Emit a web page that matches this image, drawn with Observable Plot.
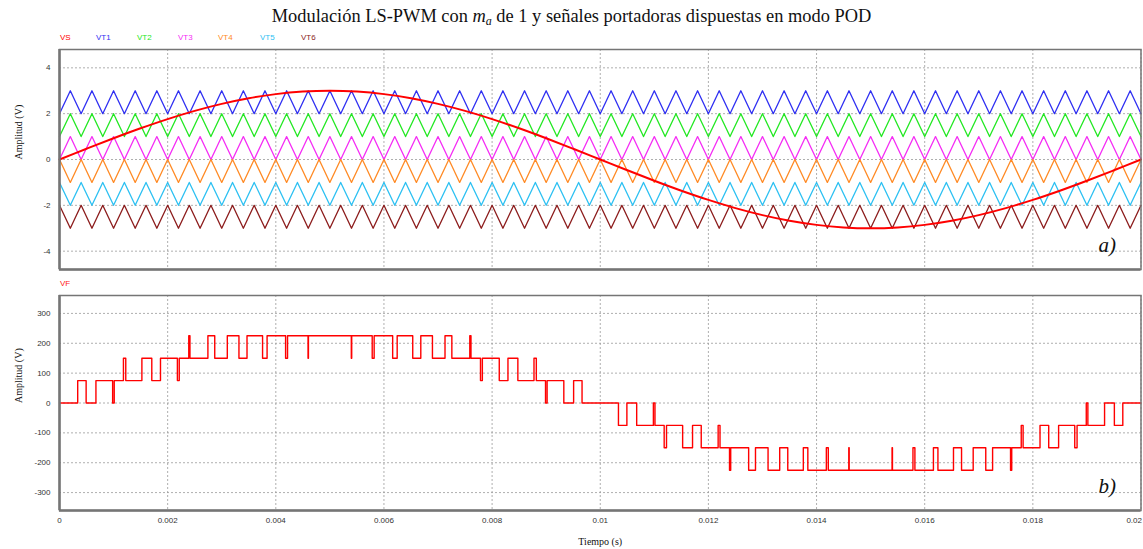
<!DOCTYPE html>
<html>
<head>
<meta charset="utf-8">
<script src="https://cdn.jsdelivr.net/npm/d3@7"></script>
<script src="https://cdn.jsdelivr.net/npm/@observablehq/plot@0.6"></script>
<style>
  body { margin: 0; background: #fff; }
  #wrap { position: relative; width: 1143px; height: 549px; overflow: hidden; background: #fff; }
  #title { position: absolute; left: 0; top: 6px; width: 1143px; text-align: center;
           font-family: "Liberation Serif", "Times New Roman", serif; font-size: 18.4px; line-height: 20px; color: #111; }
  #title i { font-style: italic; }
  #title sub { font-size: 12px; vertical-align: -3px; line-height: 0; }
  .leg { position: absolute; top: 33px; font-family: "Liberation Sans", Arial, sans-serif; font-size: 8px; line-height: 10px; }
  #vf { position: absolute; left: 60px; top: 279px; font-family: "Liberation Sans", Arial, sans-serif; font-size: 8px; line-height: 10px; color: #ff2020; }
  #plotA { position: absolute; left: 0; top: 40px; }
  #plotB { position: absolute; left: 0; top: 290px; }
</style>
</head>
<body>
<div id="wrap">
  <div id="title">Modulación LS-PWM con <i>m</i><sub><i>a</i></sub> de 1 y señales portadoras dispuestas en modo POD</div>
  <div id="legend"></div>
  <div id="vf">VF</div>
  <div id="plotA"></div>
  <div id="plotB"></div>
</div>
<script>
// ---------- data ----------
const xTicks = [0, 0.002, 0.004, 0.006, 0.008, 0.01, 0.012, 0.014, 0.016, 0.018, 0.02];
const yTicksA = [-4, -2, 0, 2, 4];
const yTicksB = [-300, -200, -100, 0, 100, 200, 300];

// Modulating signal VS (time in ms, value in V)
const vsTimeMs = [0,0.5,1,1.5,2,2.5,3,3.5,4,4.5,5,5.5,6,6.5,7,7.5,8,8.5,9,9.5,10,10.5,11,11.5,12,12.5,13,13.5,14,14.5,15,15.5,16,16.5,17,17.5,18,18.5,19,19.5,20];
const vsValues = [0,0.469,0.927,1.362,1.763,2.121,2.427,2.673,2.853,2.963,3,2.963,2.853,2.673,2.427,2.121,1.763,1.362,0.927,0.469,0,-0.469,-0.927,-1.362,-1.763,-2.121,-2.427,-2.673,-2.853,-2.963,-3,-2.963,-2.853,-2.673,-2.427,-2.121,-1.763,-1.362,-0.927,-0.469,0];

// Carrier triangle vertices (ms)
const carrierTimesMs = [0,0.2,0.4,0.6,0.8,1,1.2,1.4,1.6,1.8,2,2.2,2.4,2.6,2.8,3,3.2,3.4,3.6,3.8,4,4.2,4.4,4.6,4.8,5,5.2,5.4,5.6,5.8,6,6.2,6.4,6.6,6.8,7,7.2,7.4,7.6,7.8,8,8.2,8.4,8.6,8.8,9,9.2,9.4,9.6,9.8,10,10.2,10.4,10.6,10.8,11,11.2,11.4,11.6,11.8,12,12.2,12.4,12.6,12.8,13,13.2,13.4,13.6,13.8,14,14.2,14.4,14.6,14.8,15,15.2,15.4,15.6,15.8,16,16.2,16.4,16.6,16.8,17,17.2,17.4,17.6,17.8,18,18.2,18.4,18.6,18.8,19,19.2,19.4,19.6,19.8,20];
const carrierNames = ["VT1", "VT2", "VT3", "VT4", "VT5", "VT6"];
const carrierLow   = [2, 1, 0, -1, -2, -3];
const carrierHigh  = [3, 2, 1, 0, -1, -2];
const carrierStartLow = [true, true, true, false, false, false]; // POD
const carrierColors = ["#2f2ff2", "#22e822", "#f52cf5", "#ff8a24", "#2cc0f2", "#8c1c1c"];
const vsColor = "#ff0000";

// Output voltage VF (step-after; time in ms, value in V)
const vfTimeMs = [0,0.3366,0.4925,0.6738,0.9826,1.0121,1.1822,1.2253,1.5236,1.7067,1.8675,2.1802,2.2147,2.3906,2.4125,2.7444,2.8708,3.1032,3.3186,3.4677,3.7554,3.8388,4.1812,4.2171,4.5963,4.6035,5.3965,5.4037,5.7829,5.8188,6.1612,6.2446,6.5323,6.6814,6.8968,7.1292,7.2556,7.5875,7.6094,7.7853,7.8198,8.1325,8.2933,8.4764,8.7747,8.8178,8.9879,9.0174,9.3262,9.5075,9.6634,
  10,10.3366,10.4925,10.6738,10.9826,11.0121,11.1822,11.2253,11.5236,11.7067,11.8675,12.1802,12.2147,12.3906,12.4125,12.7444,12.8708,13.1032,13.3186,13.4677,13.7554,13.8388,14.1812,14.2171,14.5963,14.6035,15.3965,15.4037,15.7829,15.8188,16.1612,16.2446,16.5323,16.6814,16.8968,17.1292,17.2556,17.5875,17.6094,17.7853,17.8198,18.1325,18.2933,18.4764,18.7747,18.8178,18.9879,19.0174,19.3262,19.5075,19.6634,20];
const vfValues = [0,75,0,75,0,75,150,75,150,75,150,75,150,225,150,225,150,225,150,225,150,225,150,225,150,225,150,225,150,225,150,225,150,225,150,225,150,225,150,75,150,75,150,75,150,75,0,75,0,75,0,
  0,-75,0,-75,0,-75,-150,-75,-150,-75,-150,-75,-150,-225,-150,-225,-150,-225,-150,-225,-150,-225,-150,-225,-150,-225,-150,-225,-150,-225,-150,-225,-150,-225,-150,-225,-150,-225,-150,-75,-150,-75,-150,-75,-150,-75,0,-75,0,-75,0,0];

// ---------- tables ----------
const vsRows = vsTimeMs.map((t, i) => ({t: t / 1000, v: vsValues[i]}));
const carrierRows = carrierNames.map((name, k) =>
  carrierTimesMs.map((t, i) => ({t: t / 1000, v: ((i % 2 === 0) === carrierStartLow[k]) ? carrierLow[k] : carrierHigh[k]})));
const vfRows = vfTimeMs.map((t, i) => ({t: t / 1000, v: vfValues[i]}));

// ---------- legend ----------
const legendNames = ["VS", ...carrierNames];
const legendColors = [vsColor, ...carrierColors];
const legendX = [60, 96, 137, 178, 218, 260, 301];
const legend = document.getElementById("legend");
legendNames.forEach((n, i) => {
  const s = document.createElement("span");
  s.className = "leg"; s.textContent = n;
  s.style.left = legendX[i] + "px"; s.style.color = legendColors[i];
  legend.appendChild(s);
});

// ---------- shared styling ----------
const frameColor = "#757575";
const gridOpts = {stroke: "#9a9a9a", strokeOpacity: 1, strokeWidth: 0.8, strokeDasharray: "2,2"};
const style = {fontFamily: "'Liberation Sans', Arial, sans-serif", fontSize: "8px", color: "#333", background: "transparent", overflow: "visible"};
const serif = "'Liberation Serif', 'Times New Roman', serif";
const fmtX = d => String(+d.toFixed(3));
const xTicksInner = xTicks.slice(0, -1);
const xTickLast = xTicks.slice(-1);

const plotA = Plot.plot({
  width: 1143, height: 230,
  marginTop: 9, marginBottom: 1, marginLeft: 59, marginRight: 2.5,
  style,
  x: {domain: [0, 0.02], axis: null},
  y: {domain: [-4.8, 4.8]},
  marks: [
    Plot.gridX(xTicks, gridOpts),
    Plot.gridY(yTicksA, gridOpts),
    Plot.axisY(yTicksA, {tickSize: 0, tickPadding: 9, label: null, tickFormat: d => String(d), fill: "#333"}),
    ...carrierRows.map((rows, k) => Plot.line(rows, {x: "t", y: "v", stroke: carrierColors[k], strokeWidth: 1.3})),
    Plot.line(vsRows, {x: "t", y: "v", stroke: vsColor, strokeWidth: 2, curve: "catmull-rom"}),
    Plot.frame({stroke: frameColor, strokeWidth: 1.5}),
    Plot.ruleX([0], {stroke: frameColor, strokeWidth: 2.5}),
    Plot.ruleY([-4.8], {stroke: frameColor, strokeWidth: 2.5}),
    Plot.text(["Amplitud (V)"], {frameAnchor: "left", dx: -41, rotate: -90, fontFamily: serif, fontSize: 10, fill: "#111"}),
    Plot.text(["a)"], {frameAnchor: "bottom-right", dx: -25, dy: -18, textAnchor: "end", lineAnchor: "bottom", fontFamily: serif, fontStyle: "italic", fontSize: 21, fill: "#111"})
  ]
});
document.getElementById("plotA").appendChild(plotA);

const plotB = Plot.plot({
  width: 1143, height: 259,
  marginTop: 5, marginBottom: 39, marginLeft: 59, marginRight: 2.5,
  style,
  x: {domain: [0, 0.02]},
  y: {domain: [-360, 360]},
  marks: [
    Plot.gridX(xTicks, gridOpts),
    Plot.gridY(yTicksB, gridOpts),
    Plot.axisY(yTicksB, {tickSize: 0, tickPadding: 9, label: null, tickFormat: d => String(d), fill: "#333"}),
    Plot.axisX(xTicksInner, {tickSize: 0, tickPadding: 7, label: null, tickFormat: fmtX, fill: "#333"}),
    Plot.axisX(xTickLast, {tickSize: 0, tickPadding: 7, label: null, tickFormat: fmtX, fill: "#333", textAnchor: "end", dx: 1}),
    Plot.line(vfRows, {x: "t", y: "v", stroke: "#ff0000", strokeWidth: 1.4, curve: "step-after"}),
    Plot.frame({stroke: frameColor, strokeWidth: 1.5}),
    Plot.ruleX([0], {stroke: frameColor, strokeWidth: 2.5}),
    Plot.ruleY([-360], {stroke: frameColor, strokeWidth: 2.5}),
    Plot.text(["Amplitud (V)"], {frameAnchor: "left", dx: -41, rotate: -90, fontFamily: serif, fontSize: 10, fill: "#111"}),
    Plot.text(["Tiempo (s)"], {frameAnchor: "bottom", dy: 31, lineAnchor: "middle", fontFamily: serif, fontSize: 10, fill: "#111"}),
    Plot.text(["b)"], {frameAnchor: "bottom-right", dx: -25, dy: -18, textAnchor: "end", lineAnchor: "bottom", fontFamily: serif, fontStyle: "italic", fontSize: 21, fill: "#111"})
  ]
});
document.getElementById("plotB").appendChild(plotB);
</script>
</body>
</html>
